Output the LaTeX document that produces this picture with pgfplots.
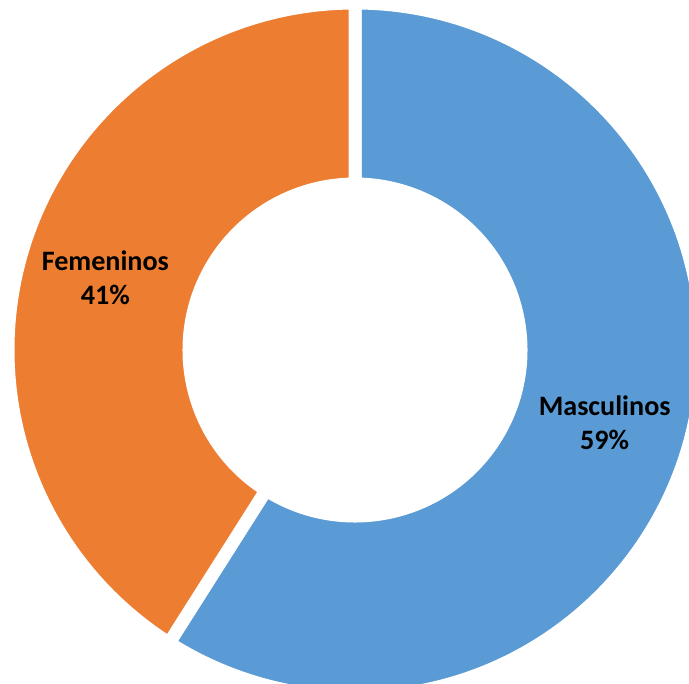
\documentclass[border=0pt]{standalone}
\usepackage{pgfplots}
\usepackage{pgfplotstable}
\usepackage{fontspec}
\setmainfont{Carlito}
\pgfplotsset{compat=1.18}

\definecolor{masc}{HTML}{5B9BD5}
\definecolor{fem}{HTML}{ED7D31}

% share of each group, in percent
\pgfplotstableread{
label value
Masculinos 59
Femeninos 41
}\sexo

\begin{document}
\begin{tikzpicture}
% angles are computed before the axis so the deferred \fill commands see the right values
\pgfplotstablegetelem{0}{value}\of\sexo \let\vm\pgfplotsretval
\pgfplotstablegetelem{1}{value}\of\sexo \let\vf\pgfplotsretval
\pgfmathsetmacro\am{90-3.6*\vm}      % end of blue slice (clockwise from top)
\pgfmathsetmacro\af{90+3.6*\vf}      % end of orange slice (counterclockwise from top)
\pgfmathsetmacro\midm{90-1.8*\vm}
\pgfmathsetmacro\midf{90+1.8*\vf}
\def\R{3.47}
\def\r{1.66}
\begin{axis}[
    x=1cm, y=1cm,
    xmin=-3.55, xmax=3.34,
    ymin=-3.33, ymax=3.50,
    hide axis,
    clip=true,
]
\fill[overlay, masc, draw=white, line width=3.7pt]
    ({\R*cos(90)},{\R*sin(90)}) arc[start angle=90, end angle=\am, radius=\R]
    -- ({\r*cos(\am)},{\r*sin(\am)}) arc[start angle=\am, end angle=90, radius=\r] -- cycle;
\fill[overlay, fem, draw=white, line width=3.7pt]
    ({\R*cos(90)},{\R*sin(90)}) arc[start angle=90, end angle=\af, radius=\R]
    -- ({\r*cos(\af)},{\r*sin(\af)}) arc[start angle=\af, end angle=90, radius=\r] -- cycle;
\node[align=center, inner sep=0pt, font=\fontsize{8}{9.6}\selectfont\bfseries]
    at ({2.6*cos(\midm)},{2.6*sin(\midm)}) {Masculinos\\\vm\%};
\node[align=center, inner sep=0pt, font=\fontsize{8}{9.6}\selectfont\bfseries]
    at ({2.6*cos(\midf)},{2.6*sin(\midf)}) {Femeninos\\\vf\%};
\end{axis}
\path (current axis.south west) rectangle (current axis.north east);
\end{tikzpicture}
\end{document}
